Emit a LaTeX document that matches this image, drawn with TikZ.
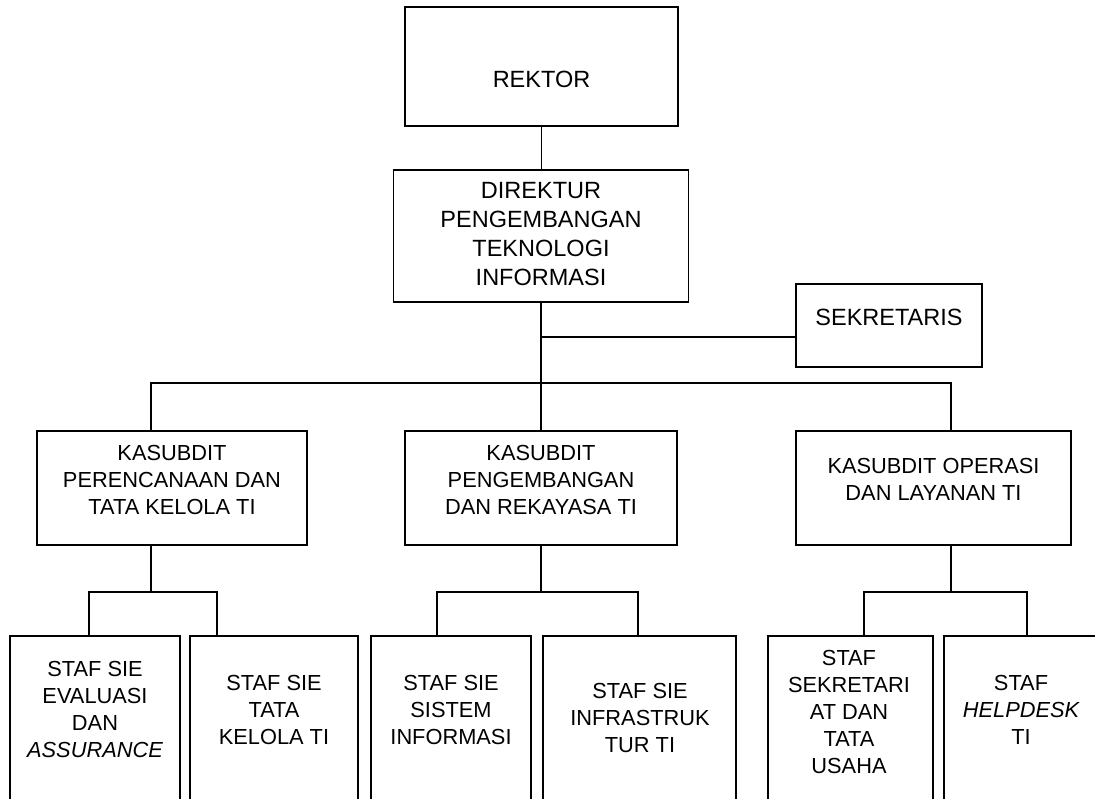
\documentclass[tikz,border=0pt]{standalone}
\usepackage{fontspec}
\setmainfont{Liberation Sans}
\usetikzlibrary{positioning}

\begin{document}
\begin{tikzpicture}[x=1pt, y=-1pt,
    box/.style={draw, line width=1.2pt, rectangle, inner sep=0pt},
    big/.style={align=center, inner sep=0pt, font=\fontsize{23.5}{29}\selectfont},
    lbl/.style={align=center, inner sep=0pt, font=\fontsize{21.8}{27}\selectfont},
    link/.style={draw, line width=1.2pt}]
  \path[use as bounding box, fill=white] (0,0) rectangle (1095,798);
  % top
  \node[box, minimum width=273pt, minimum height=119pt] (rektor) at (541.5,66.5) {};
  \node[big] (trektor) at (541.5,79) {REKTOR};
  \node[box, minimum width=295pt, minimum height=132pt] (dir) at (541,236) {};
  \node[big] (tdir) at (541,234.5) {DIREKTUR\\PENGEMBANGAN\\TEKNOLOGI\\INFORMASI};
  \node[box, minimum width=186pt, minimum height=83pt] (sek) at (889,325.5) {};
  \node[big] (tsek) at (889,317) {SEKRETARIS};
  % kasubdit
  \node[box, minimum width=270pt, minimum height=114pt] (k1) at (172,488) {};
  \node[lbl] (tk1) at (172,480) {KASUBDIT\\PERENCANAAN DAN\\TATA KELOLA TI};
  \node[box, minimum width=272pt, minimum height=114pt] (k2) at (541,488) {};
  \node[lbl] (tk2) at (541,480) {KASUBDIT\\PENGEMBANGAN\\DAN REKAYASA TI};
  \node[box, minimum width=275pt, minimum height=114pt] (k3) at (933.5,488) {};
  \node[lbl] (tk3) at (933.5,479.5) {KASUBDIT OPERASI\\DAN LAYANAN TI};
  % staf
  \node[box, minimum width=170pt, minimum height=176pt] (s1) at (95,724) {};
  \node[lbl] (ts1) at (95,709) {STAF SIE\\EVALUASI\\DAN\\\itshape ASSURANCE};
  \node[box, minimum width=168pt, minimum height=176pt] (s2) at (274,724) {};
  \node[lbl] (ts2) at (274,710) {STAF SIE\\TATA\\KELOLA TI};
  \node[box, minimum width=160pt, minimum height=176pt] (s3) at (451,724) {};
  \node[lbl] (ts3) at (451,710) {STAF SIE\\SISTEM\\INFORMASI};
  \node[box, minimum width=193pt, minimum height=176pt] (s4) at (639.5,724) {};
  \node[lbl] (ts4) at (640,718) {STAF SIE\\INFRASTRUK\\TUR TI};
  \node[box, minimum width=165pt, minimum height=176pt] (s5) at (850.5,724) {};
  \node[lbl] (ts5) at (849,711.5) {STAF\\SEKRETARI\\AT DAN\\TATA\\USAHA};
  \node[box, minimum width=156pt, minimum height=176pt] (s6) at (1022,724) {};
  \node[lbl] (ts6) at (1021,710) {STAF\\\itshape HELPDESK\\TI};
  % junctions
  \coordinate (jsek) at (541,337);
  \coordinate (busl) at (151,383);
  \coordinate (busr) at (951,383);
  \coordinate (j1l) at (89,592);
  \coordinate (j1r) at (217,592);
  \coordinate (j2l) at (437,592);
  \coordinate (j2r) at (638,592);
  \coordinate (j3l) at (864,592);
  \coordinate (j3r) at (1027,592);
  % connectors
  \path[link] (rektor.south) -- (rektor.south |- dir.north);
  \path[link] (dir.south) -- (k2.north);
  \path[link] (jsek) -- (jsek -| sek.west);
  \path[link] (busl |- k1.north) -- (busl) -- (busr) -- (busr |- k3.north);
  \path[link] (busl |- k1.south) -- (busl |- j1l);
  \path[link] (k2.south) -- (k2.south |- j2l);
  \path[link] (busr |- k3.south) -- (busr |- j3l);
  \path[link] (j1l |- s1.north) -- (j1l) -- (j1r) -- (j1r |- s2.north);
  \path[link] (j2l |- s3.north) -- (j2l) -- (j2r) -- (j2r |- s4.north);
  \path[link] (j3l |- s5.north) -- (j3l) -- (j3r) -- (j3r |- s6.north);
\end{tikzpicture}
\end{document}
